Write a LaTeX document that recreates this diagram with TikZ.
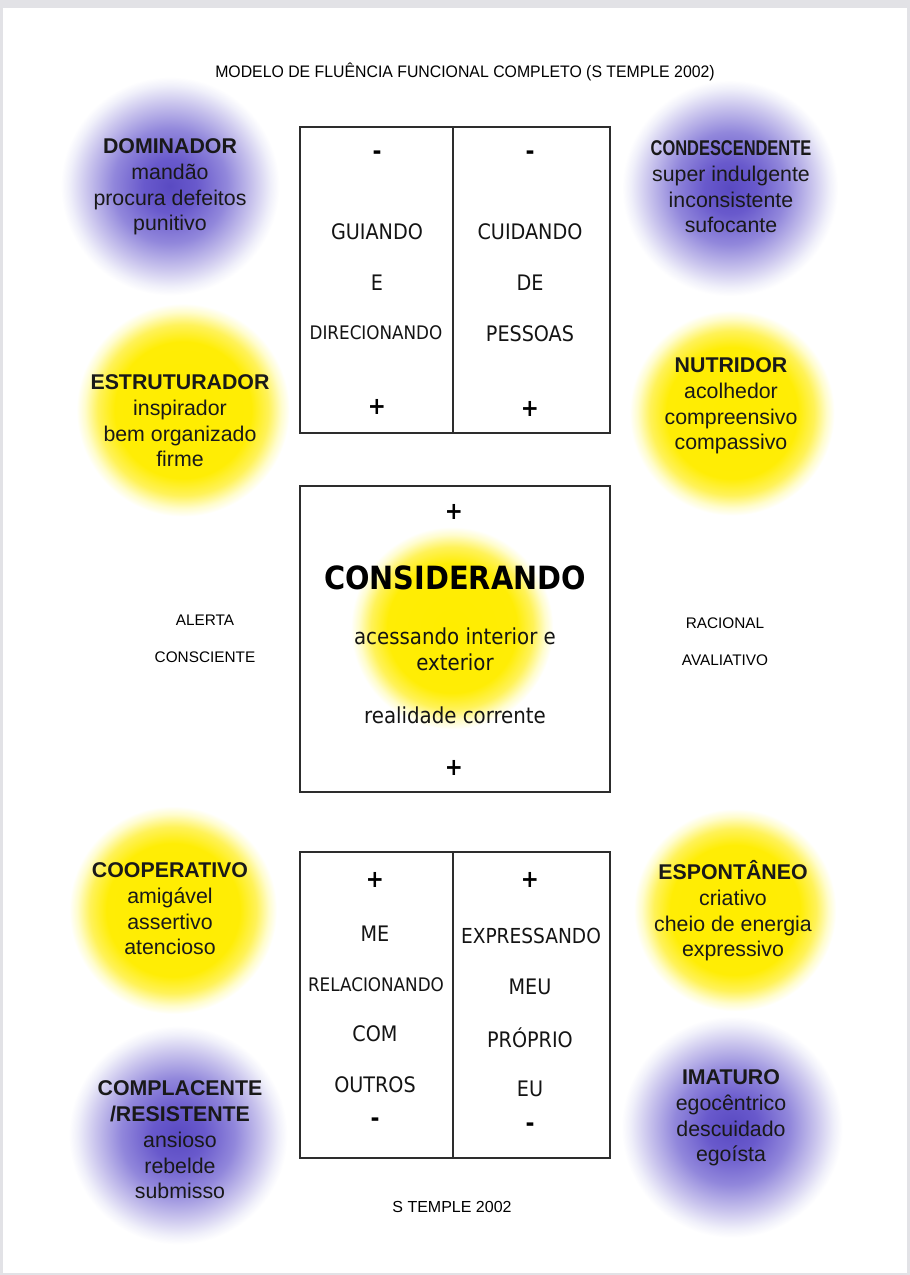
\documentclass[tikz,border=0pt]{standalone}
\usepackage{fontspec}
\setmainfont{Liberation Sans}
\newfontfamily\boxfont{DejaVuSansCondensed}[Extension=.ttf, BoldFont=DejaVuSansCondensed-Bold]
\definecolor{pagegray}{RGB}{226,226,230}
\definecolor{boxline}{RGB}{45,45,45}
\pgfdeclareradialshading{purpleglow}{\pgfpoint{0bp}{0bp}}{%
  rgb(0bp)=(0.35,0.29,0.76);
  rgb(6bp)=(0.41,0.35,0.80);
  rgb(13bp)=(0.57,0.53,0.86);
  rgb(19bp)=(0.79,0.77,0.93);
  rgb(23bp)=(0.94,0.94,0.98);
  rgb(25bp)=(1,1,1);
  rgb(50bp)=(1,1,1)}
\pgfdeclareradialshading{yellowglow}{\pgfpoint{0bp}{0bp}}{%
  rgb(0bp)=(1,0.93,0);
  rgb(16bp)=(1,0.93,0.02);
  rgb(20bp)=(1,0.95,0.35);
  rgb(23bp)=(1,0.99,0.80);
  rgb(25bp)=(1,1,1);
  rgb(50bp)=(1,1,1)}
\tikzset{
  circtext/.style={align=center, inner sep=0pt, text=black!90,
    font=\fontsize{16}{19.3}\selectfont},
  boxtext/.style={inner sep=0pt, text=black!92, font=\boxfont\fontsize{16}{19}\selectfont},
  smallbox/.style={inner sep=0pt, text=black!92, font=\boxfont\fontsize{14}{16}\selectfont},
  sign/.style={inner sep=0pt, font=\boxfont\bfseries\fontsize{18}{18}\selectfont},
  sidetext/.style={inner sep=0pt, font=\fontsize{11.5}{14}\selectfont},
  framebox/.style={draw=boxline, line width=0.9pt, minimum width=232.5pt,
    minimum height=229.5pt, inner sep=0pt},
  divider/.style={draw=boxline, line width=0.9pt}
}
\begin{document}
\begin{tikzpicture}[x=0.75pt,y=-0.75pt]
\useasboundingbox (0,0) rectangle (910,1275);
\fill[pagegray] (0,0) rectangle (910,1275);
\fill[white] (3,8) rectangle (907,1273);

% glows
\shade[shading=purpleglow] (170,186) circle[radius=82pt];
\shade[shading=purpleglow] (730,188) circle[radius=81pt];
\shade[shading=yellowglow] (183,410) circle[radius=80pt];
\shade[shading=yellowglow] (732,413) circle[radius=77pt];
\shade[shading=yellowglow] (452,628) circle[radius=76pt];
\shade[shading=yellowglow] (173,910) circle[radius=78pt];
\shade[shading=yellowglow] (735,910) circle[radius=76pt];
\shade[shading=purpleglow] (178,1135) circle[radius=82pt];
\shade[shading=purpleglow] (732,1127) circle[radius=83pt];

% title
\node[inner sep=0pt, font=\fontsize{12.5}{14}\selectfont] (title) at (465,72)
  {\scalebox{0.95}[1]{MODELO DE FLUÊNCIA FUNCIONAL COMPLETO (S TEMPLE 2002)}};

% boxes
\node[framebox] (topbox) at (455,280) {};
\node[framebox] (midbox) at (455,639) {};
\node[framebox] (botbox) at (455,1005) {};
\coordinate (topdivN) at (453,127);
\coordinate (topdivS) at (453,433);
\coordinate (botdivN) at (453,852);
\coordinate (botdivS) at (453,1158);
\draw[divider] (topdivN) -- (topdivS);
\draw[divider] (botdivN) -- (botdivS);

% top box contents
\node[sign] (t1) at (377,155) {-};
\node[boxtext] (t2) at (377,232) {GUIANDO};
\node[boxtext] (t3) at (377,283) {E};
\node[smallbox] (t4) at (376,333) {DIRECIONANDO};
\node[sign] (t5) at (377,407) {+};
\node[sign] (u1) at (530,155) {-};
\node[boxtext] (u2) at (530,232) {CUIDANDO};
\node[boxtext] (u3) at (530,283) {DE};
\node[boxtext] (u4) at (530,334) {PESSOAS};
\node[sign] (u5) at (530,409) {+};

% middle box contents
\node[sign] (m1) at (454,512) {+};
\node[inner sep=0pt, font=\boxfont\bfseries\fontsize{24}{28}\selectfont] (m2) at (455,578) {CONSIDERANDO};
\node[boxtext, align=center, font=\boxfont\fontsize{16.5}{19.5}\selectfont] (m3) at (455,649) {acessando interior e\\exterior};
\node[boxtext, font=\boxfont\fontsize{16.5}{19.5}\selectfont] (m4) at (455,715) {realidade corrente};
\node[sign] (m5) at (454,768) {+};

% bottom box contents
\node[sign] (b1) at (375,880) {+};
\node[boxtext] (b2) at (375,934) {ME};
\node[smallbox] (b3) at (376,985) {RELACIONANDO};
\node[boxtext] (b4) at (375,1034) {COM};
\node[boxtext] (b5) at (375,1085) {OUTROS};
\node[sign] (b6) at (375,1122) {-};
\node[sign] (c1) at (530,880) {+};
\node[boxtext, font=\boxfont\fontsize{15.5}{19}\selectfont] (c2) at (531,936) {EXPRESSANDO};
\node[boxtext] (c3) at (530,987) {MEU};
\node[boxtext] (c4) at (530,1038) {PRÓPRIO};
\node[boxtext] (c5) at (530,1089) {EU};
\node[sign] (c6) at (530,1127) {-};

% side labels
\node[sidetext] (alerta) at (205,620) {ALERTA};
\node[sidetext] (consciente) at (205,657) {CONSCIENTE};
\node[sidetext] (racional) at (725,623) {RACIONAL};
\node[sidetext] (avaliativo) at (725,660) {AVALIATIVO};
\node[sidetext, font=\fontsize{12}{14}\selectfont] (footer) at (452,1207) {S TEMPLE 2002};

% circle texts
\node[circtext] (dominador) at (170,187)
  {\textbf{DOMINADOR}\\mandão\\procura defeitos\\punitivo};
\node[circtext] (condescendente) at (731,187)
  {\scalebox{0.77}[1]{\textbf{CONDESCENDENTE}}\\super indulgente\\inconsistente\\sufocante};
\node[circtext] (estruturador) at (180,421)
  {\textbf{ESTRUTURADOR}\\inspirador\\bem organizado\\firme};
\node[circtext] (nutridor) at (731,406)
  {\textbf{NUTRIDOR}\\acolhedor\\compreensivo\\compassivo};
\node[circtext] (cooperativo) at (170,909)
  {\textbf{COOPERATIVO}\\amigável\\assertivo\\atencioso};
\node[circtext] (espontaneo) at (733,911)
  {\textbf{ESPONTÂNEO}\\criativo\\cheio de energia\\expressivo};
\node[circtext] (complacente) at (180,1140)
  {\textbf{COMPLACENTE}\\\textbf{/RESISTENTE}\\ansioso\\rebelde\\submisso};
\node[circtext] (imaturo) at (731,1118)
  {\textbf{IMATURO}\\egocêntrico\\descuidado\\egoísta};
\end{tikzpicture}
\end{document}
